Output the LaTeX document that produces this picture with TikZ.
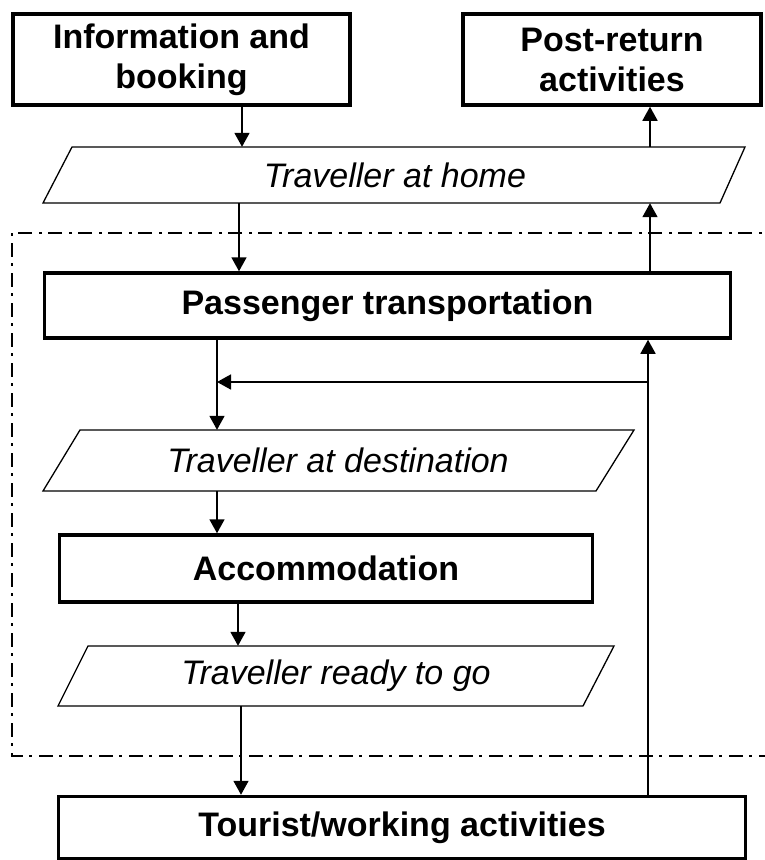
\documentclass[tikz,border=0pt]{standalone}
\usepackage{fontspec}
\setmainfont{Liberation Sans}
\usetikzlibrary{arrows.meta}
\tikzset{
  box/.style={draw, line width=3.5pt, inner sep=0pt, align=center, font=\fontsize{34}{40}\selectfont\bfseries},
  para/.style={draw=none, inner sep=0pt, align=center, font=\fontsize{34}{40}\selectfont\itshape},
  paraline/.style={line width=1.3pt, line join=miter},
  arr/.style={line width=1.7pt, -{Triangle[length=14pt,width=15pt]}},
  region/.style={line width=1.8pt, dash pattern=on 14pt off 6pt on 3pt off 7pt}
}
\begin{document}
\begin{tikzpicture}[x=1pt,y=-1pt]
\useasboundingbox (0,0) rectangle (765,860);
% dash-dot region
\draw[region] (812,233) -- (12,233) -- (12,756) -- (812,756);
% boxes
\node[box, minimum width=337pt, minimum height=91pt] (info) at (181.5,59.5) {Information and\\booking};
\node[box, minimum width=298pt, minimum height=91pt] (post) at (612,59.5) {Post-return\\activities};
\node[box, minimum width=686pt, minimum height=65pt] (pass) at (387.5,305.5) {Passenger transportation};
\node[box, minimum width=533pt, minimum height=67pt] (acc) at (326,568.5) {Accommodation};
\node[box, minimum width=687pt, minimum height=62pt] (tour) at (402,827.5) {Tourist/working activities};
% parallelograms
\draw[paraline] (72,147) -- (745,147) -- (720,203) -- (43,203) -- cycle;
\node[para, minimum width=660pt, minimum height=56pt] (home) at (395,175) {Traveller at home};
\draw[paraline] (80,430) -- (634,430) -- (596,491) -- (43,491) -- cycle;
\node[para, minimum width=550pt, minimum height=61pt] (dest) at (338,460.5) {Traveller at destination};
\draw[paraline] (88,646) -- (614,646) -- (583,706) -- (58,706) -- cycle;
\node[para, minimum width=520pt, minimum height=60pt] (ready) at (336,676) {Traveller ready to go};
% x positions of connectors
\coordinate (xa) at (242,0);
\coordinate (xb) at (239,0);
\coordinate (xr) at (650,0);
\coordinate (xl) at (217,0);
\coordinate (xv) at (648,0);
\coordinate (xc) at (238,0);
\coordinate (xd) at (241,0);
\coordinate (fbR) at (648,382);
\coordinate (fbL) at (217,382);
% connectors
\draw[arr] (info.south -| xa) -- (home.north -| xa);
\draw[arr] (home.north -| xr) -- (post.south -| xr);
\draw[arr] (home.south -| xb) -- (pass.north -| xb);
\draw[arr] (pass.north -| xr) -- (home.south -| xr);
\draw[arr] (pass.south -| xl) -- (dest.north -| xl);
\draw[arr] (tour.north -| xv) -- (pass.south -| xv);
\draw[arr] (fbR) -- (fbL);
\draw[arr] (dest.south -| xl) -- (acc.north -| xl);
\draw[arr] (acc.south -| xc) -- (ready.north -| xc);
\draw[arr] (ready.south -| xd) -- (tour.north -| xd);
\end{tikzpicture}
\end{document}
